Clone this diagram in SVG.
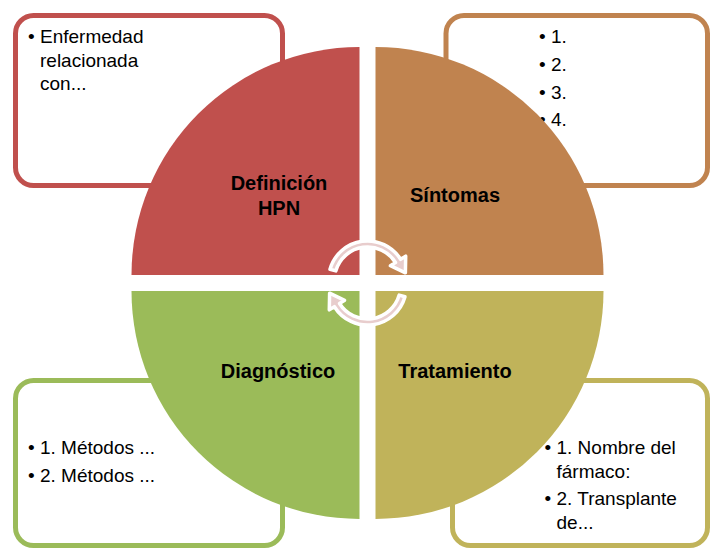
<svg xmlns="http://www.w3.org/2000/svg" width="710" height="549" viewBox="0 0 710 549">
<style>
.box{fill:#fff;stroke-width:5}
.lbl{font-family:"Liberation Sans",Arial,sans-serif;font-size:20px;font-weight:bold;fill:#000;text-anchor:middle}
.txt{font-family:"Liberation Sans",Arial,sans-serif;font-size:19px;fill:#000}
.arr{fill:#E8CDCD;stroke:#fff;stroke-width:3.5;stroke-linejoin:round}
</style>
<rect width="710" height="549" fill="#fff"/>
<g id="definicion">
<rect class="box" x="15.5" y="15.5" width="267" height="170" rx="18" stroke="#C0504D"/>
<text class="txt"><tspan x="28" y="43">•</tspan><tspan x="40" y="43">Enfermedad</tspan><tspan x="40" y="66.5">relacionada</tspan><tspan x="40" y="90">con...</tspan></text>
<path d="M359.5 275 L131.5 275 A228 228 0 0 1 359.5 47 Z" fill="#C0504D"/>
<text class="lbl"><tspan x="279" y="190">Definición</tspan><tspan x="279" y="215">HPN</tspan></text>
</g>
<g id="sintomas">
<rect class="box" x="446" y="15.5" width="261.5" height="170" rx="18" stroke="#C0834F"/>
<text class="txt"><tspan x="539" y="43">•</tspan><tspan x="551" y="43">1.</tspan></text>
<text class="txt"><tspan x="539" y="71">•</tspan><tspan x="551" y="71">2.</tspan></text>
<text class="txt"><tspan x="539" y="98.5">•</tspan><tspan x="551" y="98.5">3.</tspan></text>
<text class="txt"><tspan x="539" y="126">•</tspan><tspan x="551" y="126">4.</tspan></text>
<path d="M375.5 275 L375.5 47 A228 228 0 0 1 603.5 275 Z" fill="#C0834F"/>
<text class="lbl" x="455" y="202">Síntomas</text>
</g>
<g id="diagnostico">
<rect class="box" x="15.5" y="380.5" width="267" height="165" rx="18" stroke="#9BBB59"/>
<text class="txt"><tspan x="28" y="454">•</tspan><tspan x="40" y="454">1. Métodos ...</tspan></text>
<text class="txt"><tspan x="28" y="482">•</tspan><tspan x="40" y="482">2. Métodos ...</tspan></text>
<path d="M359.5 291 L359.5 519 A228 228 0 0 1 131.5 291 Z" fill="#9BBB59"/>
<text class="lbl" x="278" y="378">Diagnóstico</text>
</g>
<g id="tratamiento">
<rect class="box" x="452.5" y="380.5" width="255" height="165" rx="18" stroke="#C0B35A"/>
<text class="txt"><tspan x="544.5" y="454">•</tspan><tspan x="556.5" y="454">1. Nombre del</tspan><tspan x="556.5" y="477.5">fármaco:</tspan></text>
<text class="txt"><tspan x="544.5" y="505">•</tspan><tspan x="556.5" y="505">2. Transplante</tspan><tspan x="556.5" y="528.5">de...</tspan></text>
<path d="M375.5 291 L603.5 291 A228 228 0 0 1 375.5 519 Z" fill="#C0B35A"/>
<text class="lbl" x="455" y="378">Tratamiento</text>
</g>
<g id="connectors">
<path class="arr" d="M330.0 269.25 A39 39 0 0 1 400.6 259.3 L405.7 256.2 L405.4 272.8 L390.4 265.7 L395.5 262.5 A33 33 0 0 0 335.8 270.9 Z"/>
<path class="arr" d="M405.0 296.75 A39 39 0 0 1 334.4 306.7 L329.3 309.8 L329.6 293.2 L344.6 300.3 L339.5 303.5 A33 33 0 0 0 399.2 295.1 Z"/>
</g>
</svg>
